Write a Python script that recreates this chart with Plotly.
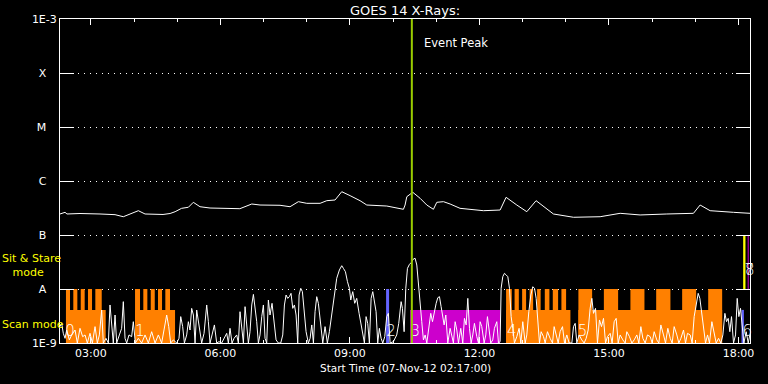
import plotly.graph_objects as go
import pandas as pd

# ---------------- data ----------------
START = "2012-11-07 02:17:00"          # start time of the plot
END_MIN = 959                          # plot end, minutes after start
EVENT_PEAK_MIN = 489                   # event peak, minutes after start

# y-axis decades and their labels
tick_vals = [1e-9, 1e-8, 1e-7, 1e-6, 1e-5, 1e-4, 1e-3]
tick_text = ["1E-9", "A", "B", "C", "M", "X", "1E-3"]

# GOES long channel (1-8 A), minutes after start / flux in W m^-2
long_min = [0, 7, 9.7, 27.8, 55.6, 76.5, 88, 108.9, 118.2, 143.2, 153, 160, 169,
            178.4, 185.3, 194.6, 208.5, 236.3, 250, 266.5, 278, 305.8, 319.7,
            331.3, 343, 361.5, 370.8, 382.3, 391.6, 403.2, 417, 426.4, 454.2,
            477.3, 479.6, 482, 490.3, 500.5, 509.8, 519, 523.7, 533, 542.2, 556,
            588.5, 611.7, 620, 634.9, 648.8, 661.7, 671.9, 685.8, 713.6, 750.7,
            778.5, 806.3, 843.4, 880.4, 889.7, 903.6, 936, 959]
long_flux = [2.45e-7, 2.63e-7, 2.45e-7, 2.50e-7, 2.45e-7, 2.38e-7, 2.18e-7, 2.82e-7,
             2.45e-7, 2.40e-7, 2.50e-7, 2.70e-7, 3.12e-7, 3.26e-7, 4.03e-7, 3.34e-7,
             3.16e-7, 3.16e-7, 3.07e-7, 3.75e-7, 3.59e-7, 3.55e-7, 3.34e-7, 4.14e-7,
             3.86e-7, 3.86e-7, 4.32e-7, 4.45e-7, 6.34e-7, 5.35e-7, 4.32e-7, 3.59e-7,
             3.44e-7, 2.99e-7, 3.59e-7, 5.12e-7, 6.18e-7, 4.78e-7, 3.59e-7, 2.99e-7,
             4.03e-7, 4.14e-7, 3.75e-7, 3.12e-7, 2.82e-7, 2.90e-7, 4.99e-7, 3.59e-7,
             2.70e-7, 4.32e-7, 3.34e-7, 2.45e-7, 2.13e-7, 2.18e-7, 2.52e-7, 2.35e-7,
             2.45e-7, 2.52e-7, 3.59e-7, 2.82e-7, 2.63e-7, 2.52e-7]

# short channel, minutes after start / flux in units of 1e-9 W m^-2
short_min = [0, 2.3, 4.6, 7.0, 9.3, 13.0, 16.2, 20.9, 24.1, 27.8, 31.5, 34.8, 38.0, 41.7,
             45.0, 48.7, 51.9, 54.7, 57.9, 60.2, 63.9, 67.2, 69.5, 71.8, 74.1, 76.5,
             78.8, 82.5, 85.7, 88.0, 90.4, 92.7, 95.9, 99.6, 101.9, 104.7, 108.9,
             113.5, 118.2, 122.8, 127.4, 132.1, 136.7, 141.3, 146.0, 148.3, 151.1,
             153.8, 157.6, 162.2, 165.4, 167.8, 170.5, 172.9, 176.1, 178.4, 180.7,
             183.0, 185.4, 187.7, 190.0, 192.3, 194.6, 196.9, 200.2, 203.9, 206.2,
             208.5, 211.3, 214.6, 217.8, 221.0, 224.7, 228.0, 231.7, 234.0, 236.3,
             239.1, 241.9, 245.6, 247.9, 250.2, 252.6, 254.9, 257.2, 259.5, 261.8,
             264.1, 266.5, 268.8, 271.6, 273.4, 275.7, 278.0, 280.4, 282.7, 285.0,
             287.3, 289.6, 291.9, 294.7, 297.5, 300.3, 303.5, 306.8, 309.6, 311.9,
             314.2, 316.5, 318.8, 321.1, 323.5, 325.8, 328.1, 330.4, 332.3, 334.6,
             336.9, 339.2, 342.0, 345.2, 347.6, 349.9, 352.2, 354.5, 356.8, 359.1,
             362.4, 365.2, 368.4, 371.6, 374.4, 377.2, 380.0, 382.3, 384.6, 388.3,
             391.6, 393.9, 396.7, 399.5, 402.2, 404.1, 406.9, 409.6, 412.4, 415.7,
             418.5, 420.8, 423.1, 425.4, 427.7, 430.0, 432.4, 434.7, 437.0, 439.3,
             441.6, 443.9, 446.3, 448.6, 451.4, 454.1, 456.4, 458.8, 463.4, 468.0,
             470.8, 474.1, 475.9, 478.3, 480.6, 482.9, 485.7, 488.5, 491.2, 493.6,
             495.9, 498.2, 500.5, 502.8, 505.1, 507.5, 509.8, 512.6, 515.3, 517.7,
             520.0, 522.8, 525.1, 527.4, 529.7, 532.0, 533.9, 536.2, 539.0, 542.2,
             544.5, 546.8, 549.2, 551.5, 553.8, 557.0, 559.8, 562.1, 564.5, 566.8,
             569.1, 571.4, 573.7, 576.0, 579.3, 581.6, 583.9, 586.2, 589.5, 591.8,
             594.1, 596.4, 598.7, 601.5, 603.8, 607.1, 609.4, 611.7, 613.1, 615.4,
             617.7, 620.1, 622.4, 624.7, 627.0, 629.3, 631.6, 634.9, 638.1, 640.5,
             643.2, 646.5, 648.8, 651.6, 654.4, 657.1, 659.5, 661.8, 664.1, 666.4,
             668.7, 672.0, 674.3, 677.5, 681.2, 684.5, 686.8, 689.6, 692.4, 695.1,
             698.4, 701.2, 704.4, 707.6, 711.4, 713.7, 716.0, 718.3, 721.5, 725.2,
             728.5, 731.3, 734.1, 736.8, 739.2, 741.5, 744.3, 747.0, 749.8, 752.6,
             755.4, 758.2, 760.9, 764.6, 767.4, 770.2, 773.0, 775.8, 778.5, 782.3,
             785.5, 787.8, 791.5, 794.8, 798.0, 801.7, 804.5, 807.3, 810.1, 813.3,
             816.5, 820.3, 823.0, 825.8, 829.5, 832.3, 835.1, 838.8, 841.6, 844.8,
             848.1, 850.8, 853.6, 857.3, 860.1, 862.9, 866.6, 869.4, 872.1, 875.9,
             878.6, 881.4, 884.2, 887.0, 889.3, 892.1, 894.9, 897.2, 900.0, 902.7,
             906.0, 909.2, 912.0, 915.3, 918.5, 921.3, 924.1, 926.4, 928.7, 931.0,
             933.3, 936.1, 938.9, 941.2, 943.5, 945.8, 948.2, 950.5, 953.7, 956.5,
             958.8]
short_flux = [2.01, 2.31, 1.51, 1.22, 1.74, 1.14, 1.41, 1.74, 1.0, 1.87, 1.31, 1.41, 1.0,
              1.51, 1.0, 2.01, 1.0, 1.41, 4.08, 1.0, 1.22, 1.0, 5.06, 2.48, 1.0, 3.30,
              1.0, 1.41, 1.87, 5.83, 1.22, 1.0, 1.41, 1.31, 2.48, 1.0, 1.22, 1.0, 1.41,
              1.0, 1.62, 1.0, 1.41, 1.0, 2.16, 3.30, 2.01, 1.0, 1.14, 1.0, 1.22, 3.08,
              2.01, 1.0, 1.41, 2.48, 1.74, 4.38, 3.30, 1.0, 4.08, 2.48, 1.41, 1.0, 1.51,
              5.06, 2.48, 1.0, 1.41, 2.16, 1.0, 1.06, 1.0, 1.22, 1.51, 1.0, 1.87, 1.0,
              1.22, 1.41, 1.0, 3.80, 1.62, 1.0, 4.71, 2.48, 1.0, 1.62, 5.06, 7.95, 3.80,
              2.48, 1.0, 1.41, 3.08, 5.06, 1.22, 1.0, 6.25, 3.30, 5.43, 2.16, 1.14, 1.0,
              1.0, 1.41, 5.06, 7.74, 6.71, 7.21, 8.31, 4.38, 5.06, 3.30, 1.0, 7.74, 10.3,
              8.93, 4.08, 1.62, 1.0, 1.22, 2.16, 1.0, 3.80, 7.21, 5.43, 2.48, 1.0, 2.01,
              1.0, 1.62, 3.08, 5.43, 10.3, 15.8, 22.5, 27.0, 24.1, 20.9, 13.7, 10.3, 6.25,
              8.93, 5.43, 6.71, 3.54, 2.16, 1.41, 1.0, 3.08, 2.31, 1.0, 6.71, 8.93, 5.83,
              3.80, 1.0, 1.87, 1.22, 1.0, 1.31, 3.08, 3.54, 1.0, 1.06, 1.41, 2.31, 5.83,
              4.38, 1.62, 10.3, 24.1, 28.6, 31.2, 36.0, 37.0, 27.8, 13.7, 5.83, 2.48,
              1.14, 1.41, 1.0, 2.01, 3.54, 2.48, 3.80, 5.43, 6.9, 7.21, 4.71, 2.67, 2.16,
              3.30, 1.0, 1.87, 1.41, 1.0, 2.48, 1.74, 1.0, 1.87, 1.0, 2.86, 2.16, 6.71,
              1.87, 1.0, 1.41, 2.31, 1.31, 1.0, 2.48, 2.01, 1.0, 1.41, 3.08, 1.62, 1.0,
              1.14, 1.87, 2.48, 1.0, 1.06, 10.3, 16.9, 19.5, 18.2, 16.9, 10.3, 3.08, 1.87,
              1.0, 1.31, 1.87, 1.0, 2.48, 1.0, 1.41, 3.80, 7.74, 11.0, 10.3, 6.71, 2.48,
              1.0, 1.62, 1.31, 1.0, 1.62, 1.22, 1.0, 2.01, 1.31, 1.0, 1.62, 2.01, 1.0,
              1.41, 1.0, 1.0, 2.01, 2.31, 1.0, 1.41, 1.14, 1.0, 1.22, 1.74, 4.38, 6.71,
              3.54, 4.38, 1.0, 2.67, 2.01, 2.86, 1.0, 1.31, 1.51, 1.0, 2.48, 2.86, 1.0,
              1.41, 1.14, 1.0, 1.62, 1.31, 1.0, 1.14, 1.41, 1.0, 2.01, 1.22, 1.0, 1.41,
              1.31, 1.0, 1.62, 1.14, 1.0, 2.16, 1.41, 1.0, 1.87, 1.22, 1.0, 2.01, 1.41,
              1.0, 1.22, 1.74, 1.0, 1.51, 1.41, 1.0, 3.08, 5.06, 8.31, 6.71, 3.30, 1.62,
              1.0, 1.41, 1.0, 2.48, 1.62, 1.0, 1.22, 1.0, 1.41, 3.54, 2.48, 2.86, 1.62,
              3.08, 1.0, 1.41, 6.71, 3.08, 4.38, 1.87, 1.0, 1.62, 1.0, 1.41]
SHORT_UNIT = 1e-9

# observation timeline (minutes after start)
scan_blocks = [(8.3, 63.5), (104.3, 159.9), (620.0, 709.4), (720.5, 920.3)]
scan_tall = [(8.3, 13.9), (18.5, 24.1), (28.8, 34.3), (38.9, 44.5), (49.1, 58.0),
             (104.3, 111.2), (115.8, 121.4), (126.1, 131.7), (136.2, 141.8), (146.4, 152.9),
             (620.0, 627.9), (631.8, 637.7), (642.3, 647.8), (652.7, 657.6), (663.1, 668.0),
             (673.8, 680.2), (684.9, 692.3), (696.9, 703.4),
             (720.5, 739.6), (755.9, 775.7), (792.8, 812.3), (828.6, 848.4),
             (864.7, 884.2), (900.9, 920.3)]
blue_tall = [(453.2, 457.4)]
magenta_low = [(486.6, 611.7)]
blue_low = [(947.2, 950.5)]
yellow_stare = [(949.5, 952.7)]
magenta_stare = [(955.8, 957.2)]
LEVEL_BASE, LEVEL_LOW, LEVEL_TALL, LEVEL_STARE = 1e-9, 4.1e-9, 1e-8, 1e-7

# observation numbers
num_text = ["0", "1", "2", "3", "4", "5", "6", "7", "8"]
num_min = [13.9, 111.2, 460.2, 493.9, 627.9, 726.4, 955.1, 958.0, 958.6]
num_flux = [1.56e-9, 1.56e-9, 1.56e-9, 1.56e-9, 1.56e-9, 1.56e-9, 1.56e-9, 2.1e-8, 2.1e-8]

# ---------------- figure ----------------
start = pd.Timestamp(START)


def T(m):
    return start + pd.to_timedelta(m, unit="min")


def rect_trace(spans, y0, y1, color):
    xs, ys = [], []
    for a, b in spans:
        ta, tb = T(a), T(b)
        xs += [ta, tb, tb, ta, ta, None]
        ys += [y0, y0, y1, y1, y0, None]
    return go.Scatter(x=xs, y=ys, mode="lines", fill="toself", fillcolor=color,
                      line=dict(width=0, color=color), hoverinfo="skip", showlegend=False)


ORANGE = "#ff8000"
MAGENTA = "#cc00cc"
BLUE = "#6464ff"
YELLOW = "#ffff00"
GREEN = "#99cc00"
FONT = "DejaVu Sans"

fig = go.Figure()
fig.add_trace(rect_trace(scan_blocks, LEVEL_BASE, LEVEL_LOW, ORANGE))
fig.add_trace(rect_trace(scan_tall, LEVEL_BASE, LEVEL_TALL, ORANGE))
fig.add_trace(rect_trace(magenta_low, LEVEL_BASE, LEVEL_LOW, MAGENTA))
fig.add_trace(rect_trace(blue_tall, LEVEL_BASE, LEVEL_TALL, BLUE))
fig.add_trace(rect_trace(blue_low, LEVEL_BASE, LEVEL_LOW, BLUE))
fig.add_trace(rect_trace(yellow_stare, LEVEL_TALL, LEVEL_STARE, YELLOW))
fig.add_trace(rect_trace(magenta_stare, LEVEL_TALL, LEVEL_STARE, MAGENTA))

fig.add_trace(go.Scatter(x=[T(m) for m in short_min], y=[v * SHORT_UNIT for v in short_flux],
                         mode="lines", line=dict(color="white", width=1), showlegend=False))
fig.add_trace(go.Scatter(x=[T(m) for m in long_min], y=long_flux,
                         mode="lines", line=dict(color="white", width=1), showlegend=False))

fig.add_trace(go.Scatter(x=[T(m) for m in num_min], y=num_flux, mode="text", text=num_text,
                         textfont=dict(color="white", size=15, family=FONT, weight=200),
                         textposition="middle center", cliponaxis=False, showlegend=False))

fig.add_shape(type="line", xref="x", yref="paper", x0=T(EVENT_PEAK_MIN), x1=T(EVENT_PEAK_MIN),
              y0=0, y1=1, line=dict(color=GREEN, width=2))

axis_common = dict(showline=True, linecolor="white", linewidth=1, mirror="ticks",
                   ticks="inside", tickcolor="white", tickwidth=1, zeroline=False)

fig.update_xaxes(type="date", range=[T(0), T(END_MIN)], tickformat="%H:%M",
                 tick0="2012-11-07 00:00:00", dtick=3 * 3600000, ticklen=6, showgrid=False,
                 tickfont=dict(size=11, color="white", family=FONT),
                 minor=dict(dtick=3600000, ticklen=3, ticks="inside", tickcolor="white",
                            showgrid=False),
                 **axis_common)
fig.update_yaxes(type="log", range=[-9, -3], tickvals=tick_vals,
                 ticktext=[t if t.startswith("1E") else t + "\u00a0\u00a0\u00a0" for t in tick_text],
                 ticklen=14, showgrid=True, gridcolor="white", gridwidth=1, griddash="1px,5px",
                 tickfont=dict(size=11, color="white", family=FONT),
                 **axis_common)

ann = [
    dict(text="GOES 14 X-Rays:", x=0.5, y=(343 - 10) / 324, font=dict(size=13)),
    dict(text="Event Peak", x=(422.7 - 60) / 690, y=(343 - 42.7) / 324, xanchor="left",
         font=dict(size=11.5)),
    dict(text="Start Time (07-Nov-12 02:17:00)", x=0.5, y=(343 - 368.3) / 324,
         font=dict(size=10.5)),
    dict(text="Sit & Stare<br>\u00a0\u00a0\u00a0mode", x=(1 - 60) / 690, y=(343 - 265) / 324,
         xanchor="left", align="left", font=dict(size=11, color=YELLOW)),
    dict(text="Scan mode", x=(1 - 60) / 690, y=(343 - 324) / 324, xanchor="left",
         font=dict(size=11, color=YELLOW)),
]
for a in ann:
    a.setdefault("xanchor", "center")
    f = a["font"]
    f.setdefault("color", "white")
    f["family"] = FONT
    fig.add_annotation(xref="paper", yref="paper", yanchor="middle", showarrow=False,
                       borderpad=0, **a)

fig.update_layout(width=768, height=384, margin=dict(l=60, r=18, t=19, b=41),
                  paper_bgcolor="black", plot_bgcolor="black", showlegend=False,
                  font=dict(family=FONT, color="white"))

fig.write_html("out.html", config={"displayModeBar": False},
               post_script="document.body.style.margin='0';document.body.style.overflow='hidden';")
